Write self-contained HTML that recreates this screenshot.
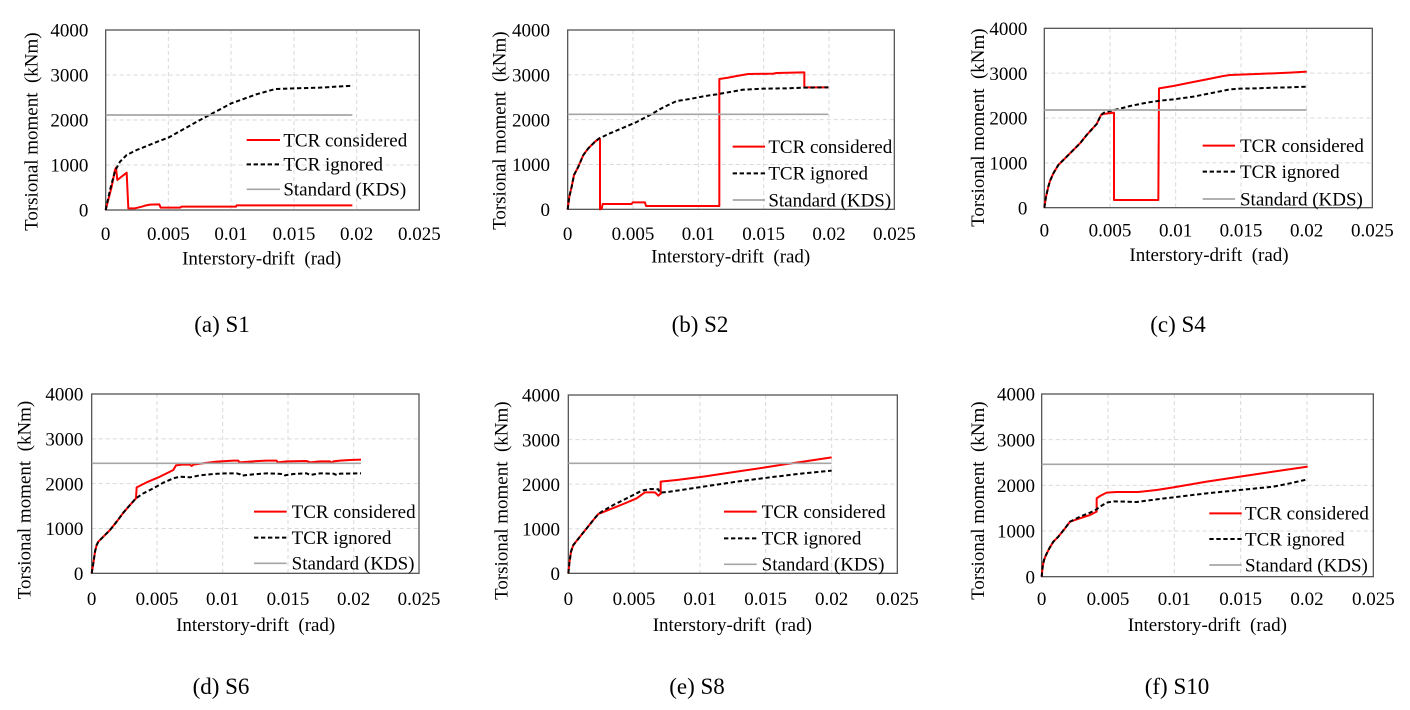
<!DOCTYPE html>
<html>
<head>
<meta charset="utf-8">
<style>
  html, body { margin:0; padding:0; background:#ffffff; font-family:"Liberation Serif", "Times New Roman", Times, "DejaVu Serif", serif; }
  body { width:1410px; height:710px; overflow:hidden; }
  svg { display:block; font-family:"Liberation Serif", "Times New Roman", Times, "DejaVu Serif", serif; }
  text { font-family:"Liberation Serif", "Times New Roman", Times, "DejaVu Serif", serif; fill:#000; white-space:pre; }
  .t { font-size:57px; }
  .cap { font-size:23px; }
  .grid { stroke:#d9d9d9; stroke-width:3; stroke-dasharray:12,9; fill:none; }
  .box { stroke:#595959; stroke-width:4; fill:none; }
  .red { stroke:#ff0000; stroke-width:6; fill:none; stroke-linejoin:round; }
  .blk { stroke:#000; stroke-width:6; fill:none; stroke-dasharray:13,8; }
  .std { stroke:#a6a6a6; stroke-width:5; fill:none; }
</style>
</head>
<body>
<svg width="1410" height="710" viewBox="0 0 1410 710" xmlns="http://www.w3.org/2000/svg" font-family="Liberation Serif, Times New Roman, Times, DejaVu Serif, serif">
<rect x="0" y="0" width="1410" height="710" fill="#fff"/>

<!-- ===== Panel (a) ===== -->
<g transform="translate(0,0) scale(0.333333)" font-family="Liberation Serif, Times New Roman, Times, DejaVu Serif, serif">
  <g class="grid">
    <line x1="505" y1="90" x2="505" y2="630"/>
    <line x1="693" y1="90" x2="693" y2="630"/>
    <line x1="882" y1="90" x2="882" y2="630"/>
    <line x1="1070" y1="90" x2="1070" y2="630"/>
    <line x1="317" y1="225" x2="1258" y2="225"/>
    <line x1="317" y1="360" x2="1258" y2="360"/>
    <line x1="317" y1="495" x2="1258" y2="495"/>
  </g>
  <rect class="box" x="317" y="90" width="941" height="540"/>
  <polyline class="red" points="317,630 335,560 345,510 348,503 352,540 380,518 385,625 405,625 425,620 435,617 450,614 478,613 482,623 540,623 545,620 708,620 710,616 1057,616"/>
  <polyline class="blk" points="317,630 330,570 345,513 360,485 380,465 410,450 480,422 505,413 600,360 694,310 769,283 826,267 882,265 958,263 1059,257"/>
  <line class="std" x1="317" y1="345" x2="1057" y2="345"/>
  <g class="t" text-anchor="end">
    <text x="265" y="650">0</text>
    <text x="265" y="515">1000</text>
    <text x="265" y="380">2000</text>
    <text x="265" y="245">3000</text>
    <text x="265" y="110">4000</text>
  </g>
  <g class="t" text-anchor="middle">
    <text x="317" y="720">0</text>
    <text x="505" y="720">0.005</text>
    <text x="693" y="720">0.01</text>
    <text x="882" y="720">0.015</text>
    <text x="1070" y="720">0.02</text>
    <text x="1258" y="720">0.025</text>
    <text x="785" y="793">Interstory-drift  (rad)</text>
    <text transform="translate(112,395) rotate(-90)">Torsional moment  (kNm)</text>
  </g>
  <line class="red" x1="740" y1="420" x2="840" y2="420"/>
  <line class="blk" x1="740" y1="493" x2="840" y2="493"/>
  <line class="std" x1="740" y1="568" x2="840" y2="568"/>
  <text class="t" x="850" y="439">TCR considered</text>
  <text class="t" x="850" y="512">TCR ignored</text>
  <text class="t" x="850" y="587">Standard (KDS)</text>
</g>

<!-- ===== Panel (b) ===== -->
<g transform="translate(470,0) scale(0.333333)" font-family="Liberation Serif, Times New Roman, Times, DejaVu Serif, serif">
  <g class="grid">
    <line x1="489" y1="90" x2="489" y2="628"/>
    <line x1="685" y1="90" x2="685" y2="628"/>
    <line x1="881" y1="90" x2="881" y2="628"/>
    <line x1="1077" y1="90" x2="1077" y2="628"/>
    <line x1="293" y1="224.5" x2="1273" y2="224.5"/>
    <line x1="293" y1="359" x2="1273" y2="359"/>
    <line x1="293" y1="493.5" x2="1273" y2="493.5"/>
  </g>
  <rect class="box" x="293" y="90" width="980" height="538"/>
  <polyline class="red" points="293,628 298,590 305,560 312,525 325,500 340,465 355,445 375,425 388,415 390,418 390,628 395,626 398,612 485,612 488,607 525,607 528,618 748,618 748,237 775,233 800,228 835,222 910,221 920,219 1000,217 1003,217 1003,262 1075,262"/>
  <polyline class="blk" points="293,628 298,590 305,560 312,525 325,500 340,465 355,445 375,425 388,415 420,400 460,383 500,366 540,345 580,322 620,303 660,297 700,289 740,283 780,276 820,269 880,266 950,265 1000,263 1075,262"/>
  <line class="std" x1="293" y1="343" x2="1075" y2="343"/>
  <g class="t" text-anchor="end">
    <text x="240" y="648">0</text>
    <text x="240" y="513.5">1000</text>
    <text x="240" y="379">2000</text>
    <text x="240" y="244.5">3000</text>
    <text x="240" y="110">4000</text>
  </g>
  <g class="t" text-anchor="middle">
    <text x="293" y="720">0</text>
    <text x="489" y="720">0.005</text>
    <text x="685" y="720">0.01</text>
    <text x="881" y="720">0.015</text>
    <text x="1077" y="720">0.02</text>
    <text x="1273" y="720">0.025</text>
    <text x="782" y="788">Interstory-drift  (rad)</text>
    <text transform="translate(107,392) rotate(-90)">Torsional moment  (kNm)</text>
  </g>
  <line class="red" x1="788" y1="440" x2="885" y2="440"/>
  <line class="blk" x1="788" y1="520" x2="885" y2="520"/>
  <line class="std" x1="788" y1="600" x2="885" y2="600"/>
  <text class="t" x="895" y="459">TCR considered</text>
  <text class="t" x="895" y="539">TCR ignored</text>
  <text class="t" x="895" y="619">Standard (KDS)</text>
</g>

<!-- ===== Panel (c) ===== -->
<g transform="translate(940,0) scale(0.333333)" font-family="Liberation Serif, Times New Roman, Times, DejaVu Serif, serif">
  <g class="grid">
    <line x1="510" y1="85" x2="510" y2="623"/>
    <line x1="707" y1="85" x2="707" y2="623"/>
    <line x1="903" y1="85" x2="903" y2="623"/>
    <line x1="1100" y1="85" x2="1100" y2="623"/>
    <line x1="313" y1="219.5" x2="1297" y2="219.5"/>
    <line x1="313" y1="354" x2="1297" y2="354"/>
    <line x1="313" y1="488.5" x2="1297" y2="488.5"/>
  </g>
  <rect class="box" x="313" y="85" width="984" height="538"/>
  <polyline class="red" points="313,623 318,590 325,560 330,543 340,520 355,495 380,470 420,430 440,405 470,372 483,345 490,342 522,338 522,600 655,600 657,265 700,258 750,248 800,238 850,228 870,225 900,224 950,222 1000,220 1050,218 1100,215"/>
  <polyline class="blk" points="313,623 318,590 325,560 330,543 340,520 355,495 380,470 420,430 440,405 470,372 483,345 492,338 510,333 540,326 570,318 620,308 660,302 700,298 760,290 800,282 850,272 870,268 900,266 950,265 1000,263 1050,262 1100,260"/>
  <line class="std" x1="313" y1="330" x2="1100" y2="330"/>
  <g class="t" text-anchor="end">
    <text x="262" y="643">0</text>
    <text x="262" y="508.5">1000</text>
    <text x="262" y="374">2000</text>
    <text x="262" y="239.5">3000</text>
    <text x="262" y="105">4000</text>
  </g>
  <g class="t" text-anchor="middle">
    <text x="313" y="710">0</text>
    <text x="510" y="710">0.005</text>
    <text x="707" y="710">0.01</text>
    <text x="903" y="710">0.015</text>
    <text x="1100" y="710">0.02</text>
    <text x="1297" y="710">0.025</text>
    <text x="807" y="783">Interstory-drift  (rad)</text>
    <text transform="translate(132,383) rotate(-90)">Torsional moment  (kNm)</text>
  </g>
  <line class="red" x1="788" y1="437" x2="885" y2="437"/>
  <line class="blk" x1="788" y1="515" x2="885" y2="515"/>
  <line class="std" x1="788" y1="597" x2="885" y2="597"/>
  <text class="t" x="900" y="456">TCR considered</text>
  <text class="t" x="900" y="534">TCR ignored</text>
  <text class="t" x="900" y="616">Standard (KDS)</text>
</g>

<!-- ===== Panel (d) ===== -->
<g transform="translate(0,370) scale(0.333333)" font-family="Liberation Serif, Times New Roman, Times, DejaVu Serif, serif">
  <g class="grid">
    <line x1="471" y1="72" x2="471" y2="610"/>
    <line x1="668" y1="72" x2="668" y2="610"/>
    <line x1="864" y1="72" x2="864" y2="610"/>
    <line x1="1061" y1="72" x2="1061" y2="610"/>
    <line x1="275" y1="206.5" x2="1257" y2="206.5"/>
    <line x1="275" y1="341" x2="1257" y2="341"/>
    <line x1="275" y1="475.5" x2="1257" y2="475.5"/>
  </g>
  <rect class="box" x="275" y="72" width="982" height="538"/>
  <polyline class="red" points="275,610 280,580 285,545 290,525 295,515 310,500 330,480 350,455 370,428 390,405 408,385 410,352 440,337 480,320 520,300 528,286 545,284 570,284 575,288 580,284 600,281 650,275 700,272 715,272 718,277 760,274 800,272 830,272 833,277 860,274 920,273 930,277 960,274 990,274 995,279 1000,274 1020,272 1050,270 1083,269"/>
  <polyline class="blk" points="275,610 280,580 285,545 290,525 295,515 310,500 330,480 350,455 370,428 390,405 408,385 430,370 460,355 490,338 520,325 540,320 570,322 600,316 640,312 680,310 710,310 720,313 725,317 760,313 800,310 850,312 855,316 880,312 920,310 930,315 960,310 1000,311 1010,315 1020,311 1083,310"/>
  <line class="std" x1="275" y1="280" x2="1083" y2="280"/>
  <g class="t" text-anchor="end">
    <text x="250" y="630">0</text>
    <text x="250" y="495.5">1000</text>
    <text x="250" y="361">2000</text>
    <text x="250" y="226.5">3000</text>
    <text x="250" y="92">4000</text>
  </g>
  <g class="t" text-anchor="middle">
    <text x="275" y="705">0</text>
    <text x="471" y="705">0.005</text>
    <text x="668" y="705">0.01</text>
    <text x="864" y="705">0.015</text>
    <text x="1061" y="705">0.02</text>
    <text x="1257" y="705">0.025</text>
    <text x="767" y="783">Interstory-drift  (rad)</text>
    <text transform="translate(92,390) rotate(-90)">Torsional moment  (kNm)</text>
  </g>
  <line class="red" x1="762" y1="425" x2="860" y2="425"/>
  <line class="blk" x1="762" y1="503" x2="860" y2="503"/>
  <line class="std" x1="762" y1="580" x2="860" y2="580"/>
  <text class="t" x="875" y="444">TCR considered</text>
  <text class="t" x="875" y="522">TCR ignored</text>
  <text class="t" x="875" y="599">Standard (KDS)</text>
</g>

<!-- ===== Panel (e) ===== -->
<g transform="translate(470,370) scale(0.333333)" font-family="Liberation Serif, Times New Roman, Times, DejaVu Serif, serif">
  <g class="grid">
    <line x1="492" y1="75" x2="492" y2="610"/>
    <line x1="690" y1="75" x2="690" y2="610"/>
    <line x1="887" y1="75" x2="887" y2="610"/>
    <line x1="1085" y1="75" x2="1085" y2="610"/>
    <line x1="295" y1="208.75" x2="1282" y2="208.75"/>
    <line x1="295" y1="342.5" x2="1282" y2="342.5"/>
    <line x1="295" y1="476.25" x2="1282" y2="476.25"/>
  </g>
  <rect class="box" x="295" y="75" width="987" height="535"/>
  <polyline class="red" points="295,610 298,580 303,545 310,525 318,515 330,500 350,475 370,450 385,432 395,428 420,418 460,402 500,385 525,367 555,367 565,377 570,372 572,372 572,335 620,330 700,320 800,305 900,290 950,282 1000,275 1085,262"/>
  <polyline class="blk" points="295,610 298,580 303,545 310,525 318,515 330,500 350,475 370,450 385,432 395,425 430,405 460,390 490,375 515,362 540,357 565,358 570,368 600,365 700,350 800,335 900,322 1000,310 1085,302"/>
  <line class="std" x1="295" y1="280" x2="1085" y2="280"/>
  <g class="t" text-anchor="end">
    <text x="270" y="630">0</text>
    <text x="270" y="496">1000</text>
    <text x="270" y="362.5">2000</text>
    <text x="270" y="229">3000</text>
    <text x="270" y="95">4000</text>
  </g>
  <g class="t" text-anchor="middle">
    <text x="295" y="705">0</text>
    <text x="492" y="705">0.005</text>
    <text x="690" y="705">0.01</text>
    <text x="887" y="705">0.015</text>
    <text x="1085" y="705">0.02</text>
    <text x="1282" y="705">0.025</text>
    <text x="787" y="783">Interstory-drift  (rad)</text>
    <text transform="translate(112,392) rotate(-90)">Torsional moment  (kNm)</text>
  </g>
  <line class="red" x1="762" y1="425" x2="860" y2="425"/>
  <line class="blk" x1="762" y1="505" x2="860" y2="505"/>
  <line class="std" x1="762" y1="583" x2="860" y2="583"/>
  <text class="t" x="875" y="444">TCR considered</text>
  <text class="t" x="875" y="524">TCR ignored</text>
  <text class="t" x="875" y="602">Standard (KDS)</text>
</g>

<!-- ===== Panel (f) ===== -->
<g transform="translate(940,370) scale(0.333333)" font-family="Liberation Serif, Times New Roman, Times, DejaVu Serif, serif">
  <g class="grid">
    <line x1="504" y1="72" x2="504" y2="620"/>
    <line x1="703" y1="72" x2="703" y2="620"/>
    <line x1="902" y1="72" x2="902" y2="620"/>
    <line x1="1101" y1="72" x2="1101" y2="620"/>
    <line x1="305" y1="209" x2="1300" y2="209"/>
    <line x1="305" y1="346" x2="1300" y2="346"/>
    <line x1="305" y1="483" x2="1300" y2="483"/>
  </g>
  <rect class="box" x="305" y="72" width="995" height="548"/>
  <polyline class="red" points="305,620 308,590 312,570 318,555 328,535 340,515 355,500 375,475 390,455 420,445 450,435 470,425 470,385 480,378 500,368 530,366 595,366 650,360 700,352 800,335 900,320 1000,305 1103,290"/>
  <polyline class="blk" points="305,620 308,590 312,570 318,555 328,535 340,515 355,500 375,475 390,455 420,440 450,428 470,418 480,410 500,398 520,394 590,396 650,388 700,382 800,370 900,360 1000,350 1050,340 1103,328"/>
  <line class="std" x1="305" y1="283" x2="1103" y2="283"/>
  <g class="t" text-anchor="end">
    <text x="285" y="640">0</text>
    <text x="285" y="503">1000</text>
    <text x="285" y="366">2000</text>
    <text x="285" y="229">3000</text>
    <text x="285" y="92">4000</text>
  </g>
  <g class="t" text-anchor="middle">
    <text x="305" y="705">0</text>
    <text x="504" y="705">0.005</text>
    <text x="703" y="705">0.01</text>
    <text x="902" y="705">0.015</text>
    <text x="1101" y="705">0.02</text>
    <text x="1300" y="705">0.025</text>
    <text x="802" y="783">Interstory-drift  (rad)</text>
    <text transform="translate(132,392) rotate(-90)">Torsional moment  (kNm)</text>
  </g>
  <line class="red" x1="808" y1="430" x2="905" y2="430"/>
  <line class="blk" x1="808" y1="507" x2="905" y2="507"/>
  <line class="std" x1="808" y1="585" x2="905" y2="585"/>
  <text class="t" x="915" y="449">TCR considered</text>
  <text class="t" x="915" y="526">TCR ignored</text>
  <text class="t" x="915" y="604">Standard (KDS)</text>
</g>

<!-- Captions -->
<g class="cap" text-anchor="middle" font-family="Liberation Serif, Times New Roman, Times, DejaVu Serif, serif">
  <text x="222" y="332">(a) S1</text>
  <text x="700" y="332">(b) S2</text>
  <text x="1178" y="332">(c) S4</text>
  <text x="221" y="694">(d) S6</text>
  <text x="697" y="694">(e) S8</text>
  <text x="1177" y="694">(f) S10</text>
</g>
</svg>
</body>
</html>
